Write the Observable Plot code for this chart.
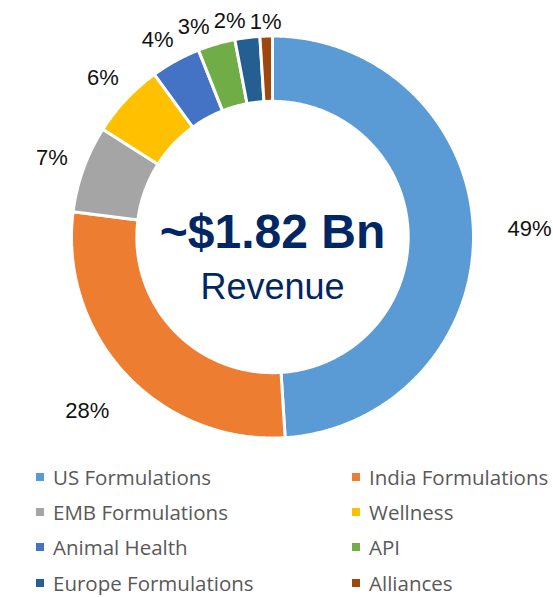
<!DOCTYPE html>
<html>
<head>
<meta charset="utf-8">
<script src="https://cdn.jsdelivr.net/npm/d3@7"></script>
<script src="https://cdn.jsdelivr.net/npm/@observablehq/plot@0.6"></script>
<style>
  html, body { margin: 0; padding: 0; background: #fff; }
  #chart { width: 553px; }
  .legend { position: relative; width: 553px; height: 140px; font-family: "Open Sans", sans-serif; font-size: 20.5px; color: #595959; }
  .legend .item { position: absolute; display: flex; align-items: center; height: 35px; white-space: nowrap; }
  .legend .sw { width: 8px; height: 8px; margin-right: 9px; flex: none; }
</style>
</head>
<body>
<div id="chart"></div>
<script>
// ---- data ----
const categories = ["US Formulations", "India Formulations", "EMB Formulations", "Wellness", "Animal Health", "API", "Europe Formulations", "Alliances"];
const shares = [49, 28, 7, 6, 4, 3, 2, 1];
const colors = ["#5B9BD5", "#ED7D31", "#A5A5A5", "#FFC000", "#4472C4", "#70AD47", "#255E91", "#9E480E"];
const centerValue = "~$1.82 Bn";
const centerLabel = "Revenue";

// ---- geometry (data units: outer radius = 1) ----
const W = 553, H = 455;
const cx = 272, cy = 236.5;
const pxPerUnit = 201;
const inner = 0.675;
const total = d3.sum(shares);
const polys = [];
const slices = [];
let cum = 0;
categories.forEach((cat, i) => {
  const a0 = cum / total * 2 * Math.PI;
  cum += shares[i];
  const a1 = cum / total * 2 * Math.PI;
  const n = Math.max(8, Math.ceil((a1 - a0) / 0.01));
  for (let k = 0; k <= n; k++) {
    const a = a0 + (a1 - a0) * k / n;
    polys.push({cat, x: Math.sin(a), y: Math.cos(a)});
  }
  for (let k = n; k >= 0; k--) {
    const a = a0 + (a1 - a0) * k / n;
    polys.push({cat, x: inner * Math.sin(a), y: inner * Math.cos(a)});
  }
  slices.push({cat, share: shares[i], mid: (a0 + a1) / 2});
});

// ---- outside-end label layout with simple collision avoidance ----
const fs = 22;
function labelBox(sl, a) {
  const w = fs * (0.556 * String(sl.share).length + 0.889);
  const h = fs * 0.72;
  const s = Math.sin(a), c = Math.cos(a);
  const gap = 6 * Math.sqrt(sl.share);
  const dist = pxPerUnit + gap + Math.abs(s) * w / 2 + Math.abs(c) * h / 2;
  let px = cx + dist * s, py = cy - dist * c;
  px = Math.min(px, W - 2 - w / 2);
  px = Math.max(px, 2 + w / 2);
  return {px, py, w, h};
}
function overlaps(b, o, pad) {
  return Math.abs(b.px - o.px) < (b.w + o.w) / 2 + pad && Math.abs(b.py - o.py) < (b.h + o.h) / 2 + pad;
}
const placed = [];
for (let i = slices.length - 1; i >= 0; i--) {
  const sl = slices[i];
  let a = sl.mid;
  let b = labelBox(sl, a);
  let guard = 0;
  while (placed.some(o => overlaps(b, o, 4)) && guard++ < 2000) {
    a -= 0.002;
    b = labelBox(sl, a);
  }
  placed.push({...b, text: sl.share + "%", cat: sl.cat});
}
const labels = placed.map(b => ({
  text: b.text,
  x: (b.px - cx) / pxPerUnit,
  y: (cy - b.py) / pxPerUnit
}));

const chart = Plot.plot({
  width: W,
  height: H,
  marginLeft: cx - pxPerUnit,
  marginRight: W - (cx + pxPerUnit),
  marginTop: cy - pxPerUnit,
  marginBottom: H - (cy + pxPerUnit),
  x: {domain: [-1, 1], axis: null},
  y: {domain: [-1, 1], axis: null},
  color: {domain: categories, range: colors},
  style: {background: "white", overflow: "visible"},
  marks: [
    Plot.line(polys, {x: "x", y: "y", z: "cat", fill: "cat", stroke: "white", strokeWidth: 3, strokeLinejoin: "miter", curve: "linear-closed"}),
    Plot.text(labels, {x: "x", y: "y", text: "text", fontSize: fs, fill: "#111", fontFamily: "Liberation Sans, Arial, sans-serif"}),
    Plot.text([centerValue], {frameAnchor: "middle", dy: -4, fontSize: 48, fontWeight: "bold", fill: "#002663", fontFamily: "Liberation Sans, Arial, sans-serif"}),
    Plot.text([centerLabel], {frameAnchor: "middle", dy: 50, fontSize: 36, fill: "#002663", fontFamily: "Liberation Sans, Arial, sans-serif"})
  ]
});
document.getElementById("chart").appendChild(chart);

// ---- legend ----
const legend = document.createElement("div");
legend.className = "legend";
categories.forEach((cat, i) => {
  const item = document.createElement("div");
  item.className = "item";
  item.style.left = (i % 2 === 0 ? 36 : 352) + "px";
  item.style.top = (Math.floor(i / 2) * 35.2 + 4.5) + "px";
  const sw = document.createElement("span");
  sw.className = "sw";
  sw.style.background = colors[i];
  const t = document.createElement("span");
  t.textContent = cat;
  item.appendChild(sw);
  item.appendChild(t);
  legend.appendChild(item);
});
document.getElementById("chart").appendChild(legend);
</script>
</body>
</html>
